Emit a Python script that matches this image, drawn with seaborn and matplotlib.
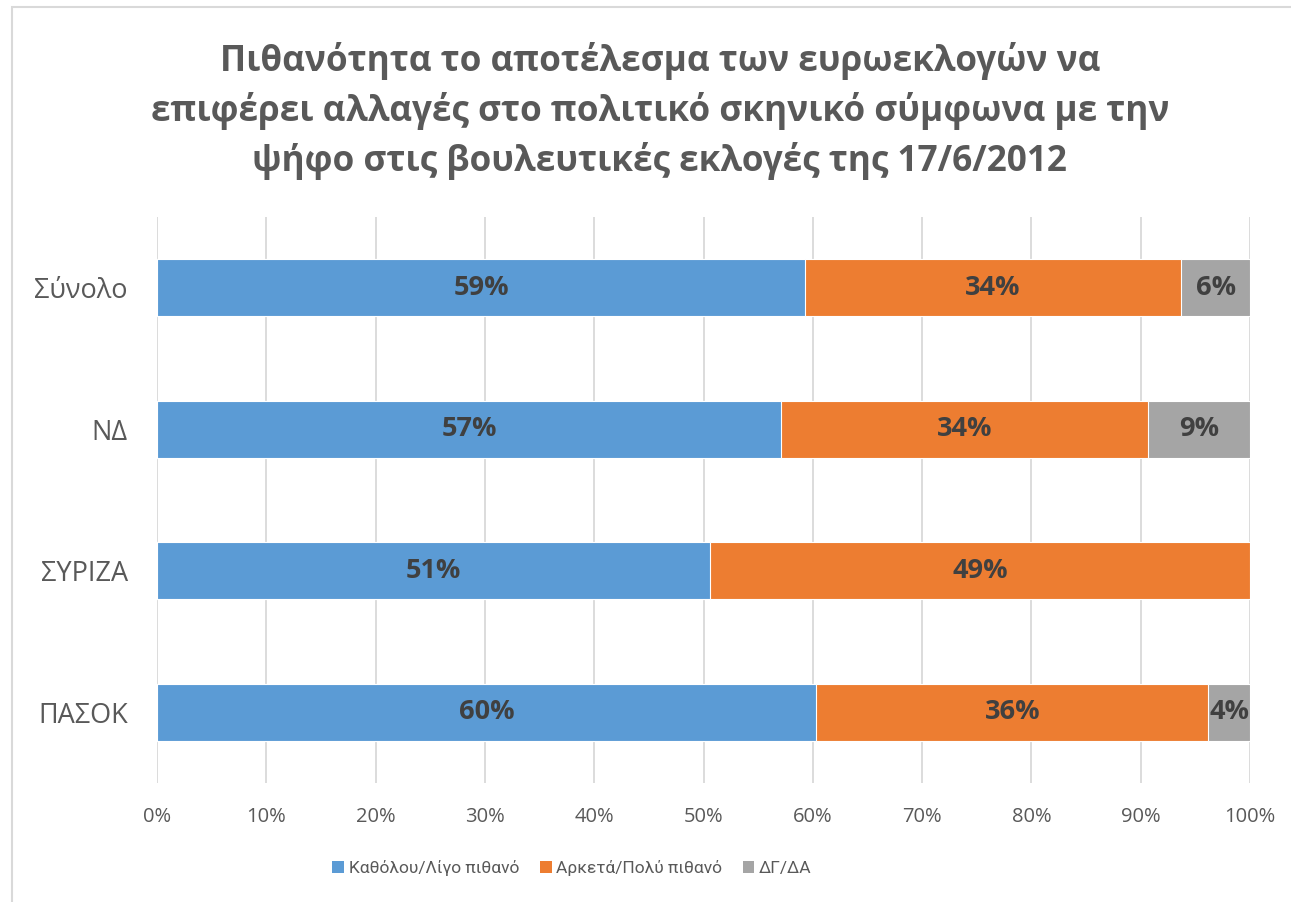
import matplotlib
matplotlib.use('Agg')
import matplotlib.pyplot as plt
import seaborn as sns
import pandas as pd
from matplotlib.patches import Patch, Rectangle
from matplotlib.ticker import MultipleLocator, PercentFormatter

# data (share of each bar, %)
categories = ['Σύνολο', 'ΝΔ', 'ΣΥΡΙΖΑ', 'ΠΑΣΟΚ']
little = [59.3, 57.1, 50.6, 60.3]
much = [34.4, 33.6, 49.4, 35.9]
dk = [6.3, 9.3, 0.0, 3.8]
series_names = ['Καθόλου/Λίγο πιθανό', 'Αρκετά/Πολύ πιθανό', 'ΔΓ/ΔΑ']
colors = ['#5B9BD5', '#ED7D31', '#A5A5A5']
title = ('Πιθανότητα το αποτέλεσμα των ευρωεκλογών να\n'
         'επιφέρει αλλαγές στο πολιτικό σκηνικό σύμφωνα με την\n'
         'ψήφο στις βουλευτικές εκλογές της 17/6/2012')

sns.set_style('white')
plt.rcParams['font.family'] = ['Open Sans', 'DejaVu Sans']
txt = '#595959'

df = pd.DataFrame({'cat': categories, 'little': little, 'much': much, 'dk': dk})
df['c1'] = df['little']
df['c2'] = df['little'] + df['much']
df['c3'] = df['c2'] + df['dk']

fig = plt.figure(figsize=(12.91, 9.02), dpi=100)
ax = fig.add_axes([157/1291, 1-783/902, (1250-157)/1291, (783-217)/902])

# draw cumulative layers back to front
for col, c in zip(['c3', 'c2', 'c1'], colors[::-1]):
    sns.barplot(data=df, x=col, y='cat', color=c, orient='h', width=0.4,
                edgecolor='white', linewidth=0.8, saturation=1, ax=ax, zorder=2)

# segment labels
for i, row in df.iterrows():
    starts = [0, row['c1'], row['c2']]
    for s, v in zip(starts, [row['little'], row['much'], row['dk']]):
        if v <= 0:
            continue
        ax.text(s + v/2, i, f'{round(v):.0f}%', ha='center', va='center',
                fontsize=19.5, fontweight='bold', color='#404040', zorder=3)

ax.set_xlim(0, 100)
ax.set_ylim(3.5, -0.5)
ax.xaxis.set_major_locator(MultipleLocator(10))
ax.xaxis.set_major_formatter(PercentFormatter(decimals=0))
ax.grid(axis='x', color='#D9D9D9', linewidth=1.3, zorder=0)
ax.set_axisbelow(True)
for s in ax.spines.values():
    s.set_visible(False)
ax.tick_params(axis='x', length=0, pad=17, labelsize=14.5, labelcolor=txt)
ax.tick_params(axis='y', length=0, pad=21, labelsize=19.5, labelcolor=txt)
ax.set_xlabel('')
ax.set_ylabel('')

fig.text(0.511, 1-111/902, title, ha='center', va='center', fontsize=25.3,
         fontweight='bold', color=txt, linespacing=1.42)

handles = [Patch(facecolor=c, edgecolor='none') for c in colors]
fig.legend(handles, series_names, loc='center', bbox_to_anchor=(0.443, 1-868/902),
           ncol=3, frameon=False, prop={'family': ['Roboto', 'DejaVu Sans'], 'size': 12.5},
           labelcolor=txt, handlelength=0.68, handleheight=0.68, handletextpad=0.25,
           columnspacing=1.2)

# chart area border (runs off right and bottom)
fig.patches.append(Rectangle((11.5/1291, -0.1), 1.2, 1-6.5/902+0.1, transform=fig.transFigure,
                             fill=False, edgecolor='#D9D9D9', linewidth=1.5))

fig.savefig('out.png', dpi=100, facecolor='white')
